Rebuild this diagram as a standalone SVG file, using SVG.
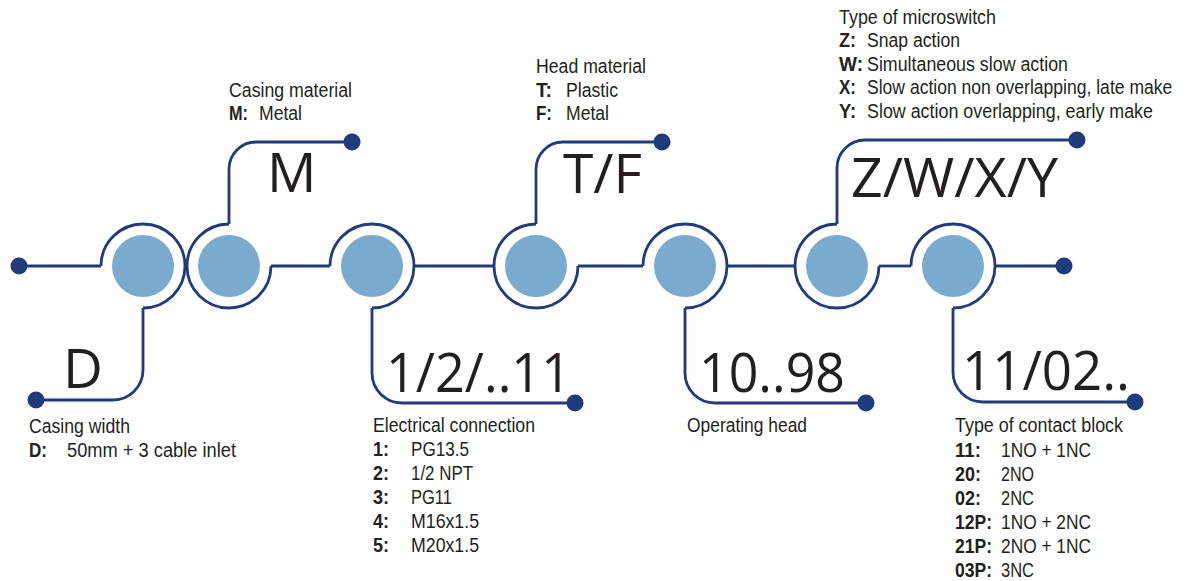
<svg xmlns="http://www.w3.org/2000/svg" width="1185" height="581" viewBox="0 0 1185 581">
<style>
.ln{fill:none;stroke:#1f3b7b;stroke-width:2.8}
.ring{fill:none;stroke:#1f3b7b;stroke-width:2.8}
.dot{fill:#1f3b7b}
.core{fill:#7aabcf}
.big{font-family:"Open Sans","Noto Sans",sans-serif;font-size:55px;fill:#231f20}
.sm{font-family:"Liberation Sans",Arial,sans-serif;font-size:19.5px;fill:#231f20}
.b{font-weight:bold}
</style>
<rect width="1185" height="581" fill="#ffffff"/>
<g id="connectors">
<path class="ln" d="M19 266 H101"/>
<path class="ln" d="M143 308 V370 A30 30 0 0 1 113 400 H36"/>
<path class="ln" d="M229 224 V169 A27 27 0 0 1 256 142 H352"/>
<path class="ln" d="M271 266 H330"/>
<path class="ln" d="M414 266 H494"/>
<path class="ln" d="M372 308 V373 A30 30 0 0 0 402 403 H575"/>
<path class="ln" d="M536 224 V169 A27 27 0 0 1 563 142 H662"/>
<path class="ln" d="M578 266 H643"/>
<path class="ln" d="M727 266 H795"/>
<path class="ln" d="M685 308 V373 A30 30 0 0 0 715 403 H866"/>
<path class="ln" d="M837 224 V168 A28 28 0 0 1 865 140 H1077"/>
<path class="ln" d="M879 266 H911"/>
<path class="ln" d="M995 266 H1064"/>
<path class="ln" d="M953 308 V372 A30 30 0 0 0 983 402 H1135"/>
<circle class="dot" cx="19" cy="266" r="8.5"/>
<circle class="dot" cx="36" cy="400" r="8.5"/>
<circle class="dot" cx="352" cy="142" r="8.5"/>
<circle class="dot" cx="575" cy="403" r="8.5"/>
<circle class="dot" cx="662" cy="142" r="8.5"/>
<circle class="dot" cx="866" cy="403" r="8.5"/>
<circle class="dot" cx="1077" cy="140" r="8.5"/>
<circle class="dot" cx="1064" cy="266" r="8.5"/>
<circle class="dot" cx="1135" cy="402" r="8.5"/>
</g>
<g id="node-D">
<path class="ring" d="M101 266 A42 42 0 1 1 143 308"/>
<circle class="core" cx="143" cy="266" r="31"/>
<text class="big" x="63" y="388">D</text>
<text class="sm" x="29" y="433" textLength="101" lengthAdjust="spacingAndGlyphs">Casing width</text>
<text class="sm b" x="29" y="457" textLength="18" lengthAdjust="spacingAndGlyphs">D:</text>
<text class="sm" x="67" y="457" textLength="169" lengthAdjust="spacingAndGlyphs">50mm + 3 cable inlet</text>
</g>
<g id="node-M">
<path class="ring" d="M229 224 A42 42 0 1 0 271 266"/>
<circle class="core" cx="229" cy="266" r="31"/>
<text class="big" x="267" y="192">M</text>
<text class="sm" x="229" y="97" textLength="123" lengthAdjust="spacingAndGlyphs">Casing material</text>
<text class="sm b" x="229" y="120" textLength="19" lengthAdjust="spacingAndGlyphs">M:</text>
<text class="sm" x="259" y="120" textLength="43" lengthAdjust="spacingAndGlyphs">Metal</text>
</g>
<g id="node-electrical">
<path class="ring" d="M330 266 A42 42 0 1 1 372 308"/>
<circle class="core" cx="372" cy="266" r="31"/>
<text class="big" x="386" y="392" textLength="185" lengthAdjust="spacingAndGlyphs">1/2/..11</text>
<text class="sm" x="373" y="432" textLength="162" lengthAdjust="spacingAndGlyphs">Electrical connection</text>
<text class="sm b" x="373" y="456" textLength="16" lengthAdjust="spacingAndGlyphs">1:</text>
<text class="sm" x="411" y="456" textLength="58" lengthAdjust="spacingAndGlyphs">PG13.5</text>
<text class="sm b" x="373" y="480" textLength="16" lengthAdjust="spacingAndGlyphs">2:</text>
<text class="sm" x="411" y="480" textLength="62" lengthAdjust="spacingAndGlyphs">1/2 NPT</text>
<text class="sm b" x="373" y="504" textLength="16" lengthAdjust="spacingAndGlyphs">3:</text>
<text class="sm" x="411" y="504" textLength="41" lengthAdjust="spacingAndGlyphs">PG11</text>
<text class="sm b" x="373" y="528" textLength="16" lengthAdjust="spacingAndGlyphs">4:</text>
<text class="sm" x="411" y="528" textLength="68" lengthAdjust="spacingAndGlyphs">M16x1.5</text>
<text class="sm b" x="373" y="552" textLength="16" lengthAdjust="spacingAndGlyphs">5:</text>
<text class="sm" x="411" y="552" textLength="68" lengthAdjust="spacingAndGlyphs">M20x1.5</text>
</g>
<g id="node-head-material">
<path class="ring" d="M578 266 A42 42 0 1 1 536 224"/>
<circle class="core" cx="536" cy="266" r="31"/>
<text class="big" x="563" y="193" textLength="79" lengthAdjust="spacingAndGlyphs">T/F</text>
<text class="sm" x="536" y="73" textLength="110" lengthAdjust="spacingAndGlyphs">Head material</text>
<text class="sm b" x="536" y="97" textLength="16" lengthAdjust="spacingAndGlyphs">T:</text>
<text class="sm" x="566" y="97" textLength="52" lengthAdjust="spacingAndGlyphs">Plastic</text>
<text class="sm b" x="536" y="120" textLength="16" lengthAdjust="spacingAndGlyphs">F:</text>
<text class="sm" x="566" y="120" textLength="43" lengthAdjust="spacingAndGlyphs">Metal</text>
</g>
<g id="node-operating-head">
<path class="ring" d="M643 266 A42 42 0 1 1 685 308"/>
<circle class="core" cx="685" cy="266" r="31"/>
<text class="big" x="699" y="392" textLength="146" lengthAdjust="spacingAndGlyphs">10..98</text>
<text class="sm" x="687" y="432" textLength="120" lengthAdjust="spacingAndGlyphs">Operating head</text>
</g>
<g id="node-microswitch">
<path class="ring" d="M837 224 A42 42 0 1 0 879 266"/>
<circle class="core" cx="837" cy="266" r="31"/>
<text class="big" x="851" y="197" textLength="207" lengthAdjust="spacingAndGlyphs">Z/W/X/Y</text>
<text class="sm" x="839" y="24" textLength="157" lengthAdjust="spacingAndGlyphs">Type of microswitch</text>
<text class="sm b" x="839" y="47" textLength="17" lengthAdjust="spacingAndGlyphs">Z:</text>
<text class="sm" x="867" y="47" textLength="93" lengthAdjust="spacingAndGlyphs">Snap action</text>
<text class="sm b" x="839" y="71" textLength="24" lengthAdjust="spacingAndGlyphs">W:</text>
<text class="sm" x="867" y="71" textLength="201" lengthAdjust="spacingAndGlyphs">Simultaneous slow action</text>
<text class="sm b" x="839" y="94" textLength="17" lengthAdjust="spacingAndGlyphs">X:</text>
<text class="sm" transform="matrix(0.9 0 0 1 867 94)" x="0" y="0">Slow action non overlapping, late make</text>
<text class="sm b" x="839" y="118" textLength="17" lengthAdjust="spacingAndGlyphs">Y:</text>
<text class="sm" x="867" y="118" textLength="286" lengthAdjust="spacingAndGlyphs">Slow action overlapping, early make</text>
</g>
<g id="node-contact-block">
<path class="ring" d="M911 266 A42 42 0 1 1 953 308"/>
<circle class="core" cx="953" cy="266" r="31"/>
<text class="big" x="962" y="390" textLength="168" lengthAdjust="spacingAndGlyphs">11/02..</text>
<text class="sm" x="955" y="432" textLength="168" lengthAdjust="spacingAndGlyphs">Type of contact block</text>
<text class="sm b" x="955" y="457" textLength="26" lengthAdjust="spacingAndGlyphs">11:</text>
<text class="sm" x="1001" y="457" textLength="90" lengthAdjust="spacingAndGlyphs">1NO + 1NC</text>
<text class="sm b" x="955" y="481" textLength="26" lengthAdjust="spacingAndGlyphs">20:</text>
<text class="sm" x="1001" y="481" textLength="33" lengthAdjust="spacingAndGlyphs">2NO</text>
<text class="sm b" x="955" y="505" textLength="26" lengthAdjust="spacingAndGlyphs">02:</text>
<text class="sm" x="1001" y="505" textLength="33" lengthAdjust="spacingAndGlyphs">2NC</text>
<text class="sm b" x="955" y="529" textLength="37" lengthAdjust="spacingAndGlyphs">12P:</text>
<text class="sm" x="1001" y="529" textLength="90" lengthAdjust="spacingAndGlyphs">1NO + 2NC</text>
<text class="sm b" x="955" y="553" textLength="37" lengthAdjust="spacingAndGlyphs">21P:</text>
<text class="sm" x="1001" y="553" textLength="90" lengthAdjust="spacingAndGlyphs">2NO + 1NC</text>
<text class="sm b" x="955" y="577" textLength="37" lengthAdjust="spacingAndGlyphs">03P:</text>
<text class="sm" x="1001" y="577" textLength="33" lengthAdjust="spacingAndGlyphs">3NC</text>
</g>
</svg>
